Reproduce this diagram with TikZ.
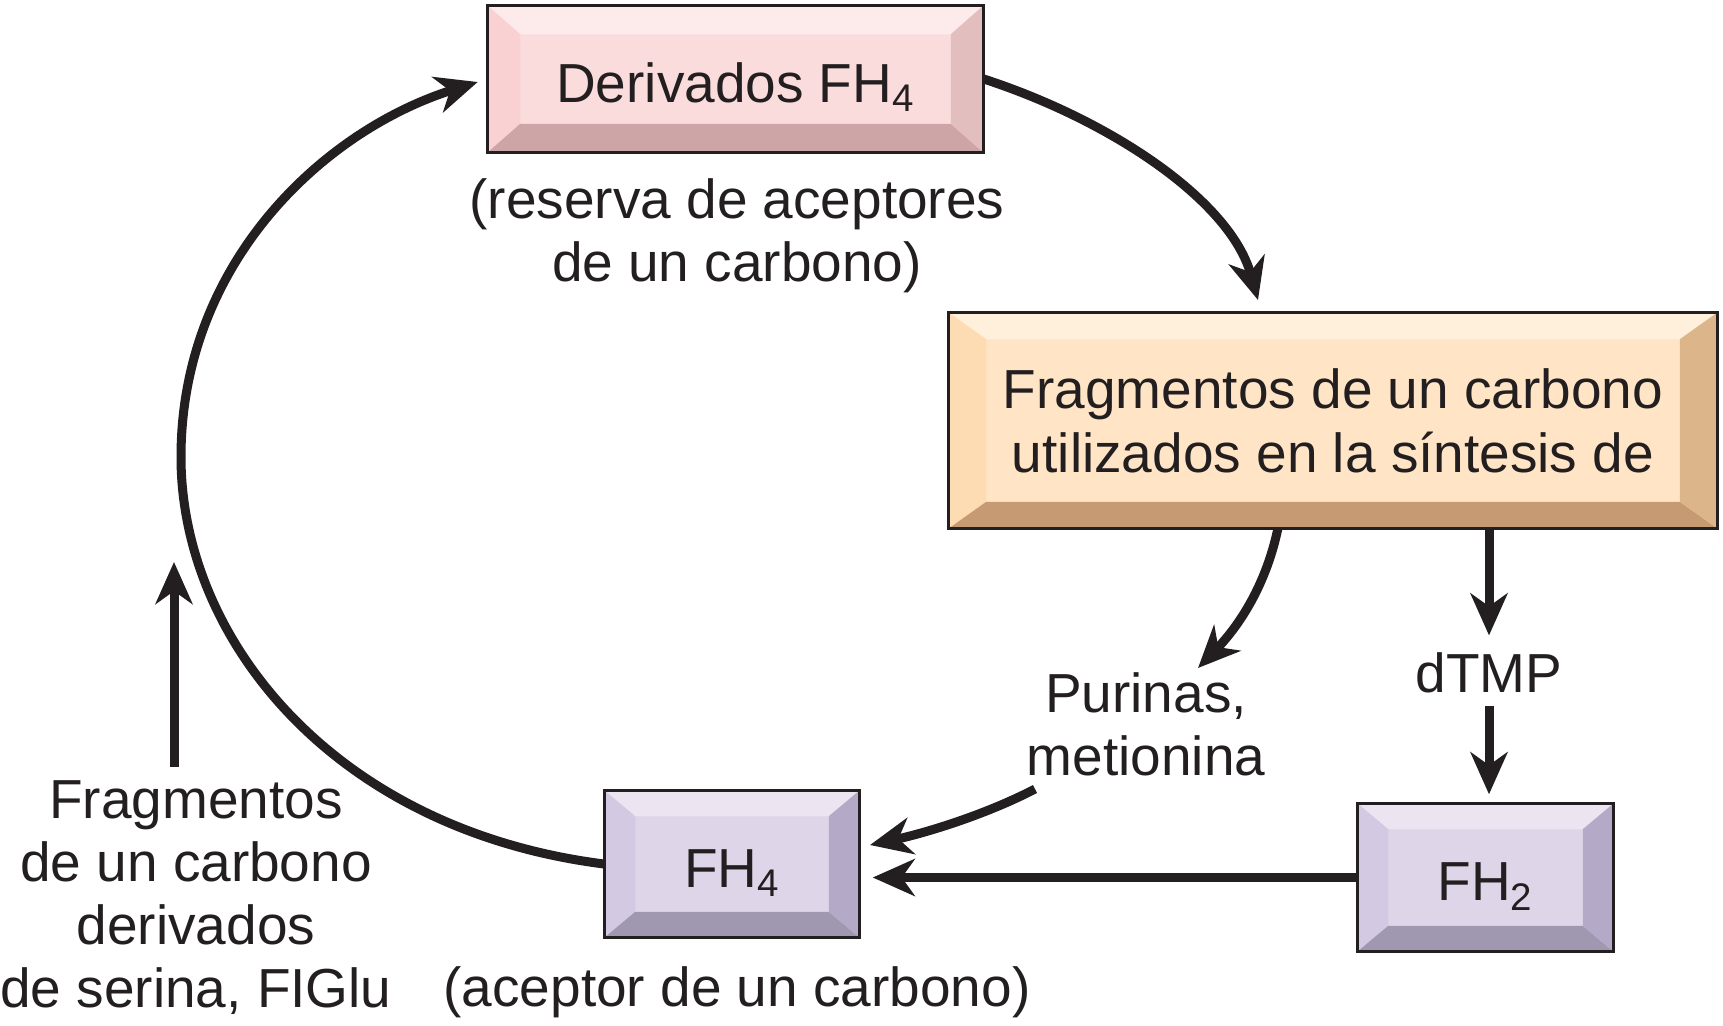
\documentclass[tikz,border=0pt]{standalone}
\usepackage{fontspec}
\setmainfont{Liberation Sans}
\usetikzlibrary{arrows.meta,calc}

\definecolor{ink}{HTML}{231F20}
\definecolor{pkF}{HTML}{FBDCDD}
\definecolor{pkT}{HTML}{FDEBEB}
\definecolor{pkL}{HTML}{F9D1D2}
\definecolor{pkB}{HTML}{CEA5A6}
\definecolor{pkR}{HTML}{E3BEBF}
\definecolor{orF}{HTML}{FFE5C6}
\definecolor{orT}{HTML}{FFF0DC}
\definecolor{orL}{HTML}{FEDCB3}
\definecolor{orB}{HTML}{C69B73}
\definecolor{orR}{HTML}{DCB58B}
\definecolor{lvF}{HTML}{DED6E8}
\definecolor{lvT}{HTML}{ECE4F0}
\definecolor{lvL}{HTML}{D4C9E2}
\definecolor{lvB}{HTML}{A097B1}
\definecolor{lvR}{HTML}{B4AAC8}

\tikzset{every picture/.style={line width=0.75pt}}

\begin{document}
\begin{tikzpicture}[x=0.5pt,y=0.5pt,yscale=-1,xscale=1,
  box/.style={inner sep=0pt,align=center,text=ink,font=\fontsize{27.5}{32}\selectfont},
  oneline/.style={text height=23pt,text depth=0pt},
  lbl/.style={inner sep=0pt,align=center,text=ink,font=\fontsize{27.5}{31.5}\selectfont},
  arr/.style={draw=ink,line width=4.5pt,-{Stealth[length=21pt,width=18.5pt,inset=6.5pt]}}]
%set diagram size
\path[use as bounding box] (0,0) rectangle (1723,1025);

%Shape: Rectangle [Derivados]
\node[box,oneline,fill=pkF,minimum width=247.5pt,minimum height=73pt] (d) at (735.5,79) {Derivados FH\textsubscript{4}};
%Shape: Rectangle [Fragmentos]
\node[box,fill=orF,minimum width=384pt,minimum height=107.5pt] (f) at (1333,420.5) {Fragmentos de un carbono\\utilizados en la síntesis de};
%Shape: Rectangle [FH4]
\node[box,oneline,fill=lvF,minimum width=127pt,minimum height=73pt] (a) at (732,864) {FH\textsubscript{4}};
%Shape: Rectangle [FH2]
\node[box,oneline,fill=lvF,minimum width=127.5pt,minimum height=73.5pt] (b) at (1485.5,877.5) {FH\textsubscript{2}};

%bevels and borders
\foreach \n/\bx/\by/\ct/\cl/\cb/\cr in {d/33/29/pkT/pkL/pkB/pkR, f/38/27/orT/orL/orB/orR, a/31/26/lvT/lvL/lvB/lvR, b/31/26/lvT/lvL/lvB/lvR}{
  \fill[\ct] (\n.north west) -- (\n.north east) -- ($(\n.north east)+(-\bx,\by)$) -- ($(\n.north west)+(\bx,\by)$) -- cycle;
  \fill[\cl] (\n.north west) -- ($(\n.north west)+(\bx,\by)$) -- ($(\n.south west)+(\bx,-\by)$) -- (\n.south west) -- cycle;
  \fill[\cb] (\n.south west) -- ($(\n.south west)+(\bx,-\by)$) -- ($(\n.south east)+(-\bx,-\by)$) -- (\n.south east) -- cycle;
  \fill[\cr] (\n.north east) -- ($(\n.north east)+(-\bx,\by)$) -- ($(\n.south east)+(-\bx,-\by)$) -- (\n.south east) -- cycle;
  \draw[ink,line width=1.6pt] (\n.north west) rectangle (\n.south east);
}

% Text Node
\node[lbl,anchor=north] (res) at (737,178) {(reserva de aceptores\\de un carbono)};
% Text Node
\node[lbl,anchor=north] (acc) at (737,966) {(aceptor de un carbono)};
% Text Node
\node[lbl,anchor=north] (src) at (196,780) {Fragmentos\\de un carbono\\derivados\\de serina, FIGlu};
% Text Node
\node[lbl,anchor=north] (pur) at (1146,672) {Purinas,\\metionina};
% Text Node
\node[lbl,anchor=base] (tmp) at (1489,692) {dTMP};

%free ends
\coordinate (q) at (1258,300);
\coordinate (p0) at (1278,528);
\coordinate (p1) at (1198,668);
\coordinate (m0) at (1035,789);
\coordinate (m1) at (870,845);
\coordinate (u0) at (174,767);
\coordinate (u1) at (174,562);

%Curve Lines
\draw[arr,shorten >=5pt] (a.west) .. controls (335,830) and (181,640) .. (181,457) .. controls (181,262) and (325,130) .. (d.west);
%Curve Lines
\draw[arr] (d.east) .. controls (1110,120) and (1230,200) .. (q);
%Curve Lines
\draw[arr] (p0) .. controls (1265,590) and (1235,630) .. (p1);
%Curve Lines
\draw[arr] (m0) .. controls (985,815) and (925,833) .. (m1);
%Straight Lines
\draw[arr,shorten >=8pt] (f.south -| tmp.north) -- (tmp.north);
\draw[arr,shorten <=6.5pt,shorten >=4.5pt] (tmp.south) -- (tmp.south |- b.north);
%Straight Lines
\draw[arr,shorten >=6.5pt] (b.west) -- (b.west -| a.east);
%Straight Lines
\draw[arr] (u0) -- (u1);

\end{tikzpicture}
\end{document}
